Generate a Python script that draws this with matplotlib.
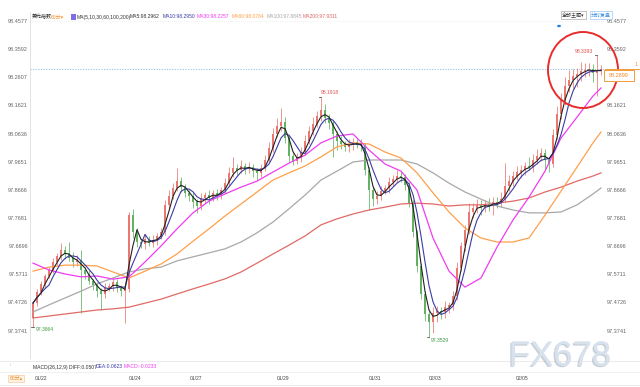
import matplotlib
matplotlib.use('Agg')
import matplotlib.pyplot as plt
import numpy as np
import pandas as pd
from matplotlib.patches import Ellipse, Rectangle, Circle
from matplotlib.lines import Line2D
import matplotlib.patheffects as pe

plt.rcParams['font.family'] = ['Liberation Sans', 'Noto Sans CJK SC', 'DejaVu Sans']

# ---------------- data ----------------
first_open = 97.418
close = [
    97.4705, 97.509, 97.537, 97.565, 97.586, 97.614, 97.635, 97.656, 97.642, 97.628,
    97.614, 97.621, 97.586, 97.572, 97.5475, 97.5335, 97.5125, 97.502, 97.523, 97.530,
    97.544, 97.523, 97.5125, 97.5195, 97.7785, 97.719, 97.684, 97.677, 97.6945, 97.6805,
    97.691, 97.705, 97.719, 97.8135, 97.845, 97.873, 97.8975, 97.8765, 97.8555, 97.845,
    97.824, 97.810, 97.838, 97.8485, 97.838, 97.8555, 97.8485, 97.866, 97.8905, 97.9255,
    97.943, 97.936, 97.950, 97.9395, 97.9465, 97.9325, 97.9255, 97.943, 97.971, 98.013,
    98.062, 98.090, 98.104, 98.048, 97.985, 97.9675, 97.9815, 97.999, 98.0375, 98.0725,
    98.097, 98.125, 98.146, 98.118, 98.1005, 98.062, 98.0375, 98.027, 98.0165, 98.027,
    98.034, 98.0235, 98.020, 97.936, 97.866, 97.8345, 97.845, 97.8625, 97.873, 97.894,
    97.9045, 97.915, 97.9115, 97.8835, 97.8205, 97.719, 97.600, 97.502, 97.432, 97.404,
    97.4355, 97.4425, 97.439, 97.4565, 97.4635, 97.495, 97.593, 97.670, 97.726, 97.789,
    97.803, 97.8135, 97.803, 97.817, 97.810, 97.824, 97.8205, 97.8345, 97.880, 97.8975,
    97.915, 97.929, 97.936, 97.950, 97.9465, 97.971, 97.985, 97.9955, 97.971, 97.957,
    98.0585, 98.132, 98.181, 98.230, 98.251, 98.265, 98.272, 98.2825, 98.286, 98.2895,
    98.2755, 98.286, 98.2899,
]
upper_wick_pips = [
    8, 10, 12, 8, 10, 14, 12, 25, 15, 42,
    20, 18, 35, 10, 14, 8, 12, 10, 16, 12,
    14, 10, 12, 8, 10, 20, 14, 12, 18, 10,
    16, 12, 14, 18, 22, 16, 45, 14, 12, 10,
    14, 10, 18, 12, 16, 10, 14, 12, 18, 22,
    38, 14, 20, 12, 16, 10, 12, 14, 18, 22,
    20, 28, 49, 16, 12, 10, 14, 18, 22, 16,
    24, 18, 46, 20, 14, 12, 10, 16, 12, 18,
    14, 12, 20, 10, 12, 14, 16, 18, 12, 16,
    14, 22, 18, 12, 10, 12, 8, 10, 12, 14,
    22, 16, 14, 20, 12, 16, 20, 14, 18, 30,
    16, 22, 18, 14, 20, 16, 18, 24, 80, 20,
    16, 22, 18, 14, 30, 20, 26, 18, 14, 12,
    20, 28, 24, 30, 36, 26, 22, 30, 24, 22,
    18, 53, 14,
]
lower_wick_pips = [
    32, 12, 10, 14, 8, 12, 10, 14, 16, 12,
    18, 14, 150, 16, 12, 18, 20, 56, 14, 12,
    16, 14, 18, 112, 12, 20, 16, 14, 18, 12,
    14, 16, 12, 10, 14, 12, 10, 16, 14, 18,
    20, 25, 14, 16, 22, 12, 18, 14, 10, 12,
    14, 16, 12, 18, 14, 22, 26, 14, 12, 10,
    14, 12, 16, 18, 20, 14, 12, 16, 10, 12,
    14, 12, 16, 18, 22, 80, 30, 18, 14, 16,
    20, 12, 16, 18, 70, 24, 16, 14, 12, 16,
    14, 12, 18, 16, 14, 16, 20, 18, 24, 51,
    38, 30, 26, 20, 22, 16, 14, 12, 18, 14,
    20, 16, 24, 14, 18, 30, 16, 14, 12, 16,
    18, 14, 20, 16, 12, 18, 14, 16, 30, 28,
    12, 14, 16, 18, 22, 30, 40, 26, 20, 22,
    30, 80, 16,
]

ma_sample_idx = [0, 4, 8, 12, 16, 20, 24, 28, 32, 36, 40, 44, 48, 52, 56, 60, 64, 68,
                 72, 76, 80, 84, 88, 92, 96, 100, 104, 108, 112, 116, 120, 124, 128,
                 132, 136, 140, 142]
ma30 = [97.610, 97.586, 97.572, 97.562, 97.565, 97.554, 97.562, 97.614, 97.670, 97.730,
        97.786, 97.827, 97.852, 97.876, 97.897, 97.929, 97.960, 97.988, 98.031, 98.055,
        98.062, 98.006, 97.957, 97.932, 97.866, 97.698, 97.582, 97.526, 97.558, 97.666,
        97.761, 97.841, 97.932, 98.048, 98.121, 98.195, 98.223]
ma60 = [97.582, 97.596, 97.603, 97.603, 97.600, 97.579, 97.558, 97.582, 97.607, 97.642,
        97.687, 97.730, 97.775, 97.817, 97.859, 97.901, 97.926, 97.950, 97.982, 98.017,
        98.031, 98.027, 97.999, 97.978, 97.926, 97.856, 97.789, 97.733, 97.698, 97.684,
        97.684, 97.698, 97.778, 97.862, 97.946, 98.031, 98.069]
ma100 = [97.439, 97.464, 97.488, 97.512, 97.537, 97.558, 97.579, 97.590, 97.596, 97.618,
         97.632, 97.646, 97.660, 97.684, 97.716, 97.754, 97.800, 97.848, 97.901, 97.932,
         97.964, 97.971, 97.971, 97.971, 97.957, 97.926, 97.890, 97.859, 97.834, 97.810,
         97.796, 97.786, 97.786, 97.789, 97.814, 97.852, 97.873]
ma200 = [97.418, 97.425, 97.432, 97.439, 97.446, 97.450, 97.456, 97.470, 97.484, 97.502,
         97.520, 97.537, 97.555, 97.579, 97.610, 97.642, 97.673, 97.705, 97.744, 97.765,
         97.782, 97.796, 97.806, 97.817, 97.820, 97.817, 97.810, 97.814, 97.814, 97.820,
         97.827, 97.838, 97.859, 97.876, 97.897, 97.915, 97.926]

date_labels = ['01/22', '01/24', '01/27', '01/29', '01/31', '02/03', '02/05']
date_pos = [2, 25.5, 40.75, 62.5, 85.5, 100.5, 122.25]

ytick_vals = [98.4577, 98.3592, 98.2607, 98.1621, 98.0636, 97.9651, 97.8666,
              97.7681, 97.6696, 97.5711, 97.4726, 97.3741]
last_price = 98.2899
high_label = '98.1918'
low_label = '97.3529'
start_low_label = '97.3864'
recent_high_label = '98.3393'

# ---------------- figure ----------------
W, H = 640, 387
fig = plt.figure(figsize=(W / 100, H / 100), dpi=100)
fig.patch.set_facecolor('white')
ax = fig.add_axes([30 / W, 1 - 358 / H, 575 / W, 346 / H])
ax.set_facecolor('white')

close_a = np.array(close)
n = len(close_a)
xs = np.arange(n)
opn = np.concatenate([[first_open], close_a[:-1]])
hi = np.maximum(opn, close_a) + np.array(upper_wick_pips) * 0.001
lo = np.minimum(opn, close_a) - np.array(lower_wick_pips) * 0.001
is_up = close_a >= opn
cols = np.where(is_up, '#ec7670', '#62b262')

ax.vlines(xs, lo, hi, colors=cols, lw=0.55, zorder=2)
body_h = np.where(np.abs(close_a - opn) < 0.0015, 0.0015, close_a - opn)
ax.bar(xs, body_h, bottom=opn, width=0.5, color=cols, linewidth=0, zorder=2)

# moving averages
s = pd.Series(close_a)
ma5_line = s.rolling(3, min_periods=1).mean()   # bars here are ~2 hourly bars each
ma10_line = s.rolling(5, min_periods=1).mean()
ax.plot(ma_sample_idx, ma200, color='#e06a66', lw=0.9, zorder=3)
ax.plot(ma_sample_idx, ma100, color='#a8a8a8', lw=0.9, zorder=3)
ax.plot(ma_sample_idx, ma60, color='#ffa04a', lw=0.9, zorder=3)
ax.plot(ma_sample_idx, ma30, color='#f03cf0', lw=0.9, zorder=3)
ax.plot(xs, ma10_line, color='#3b3ba8', lw=0.8, zorder=4)
ax.plot(xs, ma5_line, color='#222222', lw=0.8, zorder=5)

# price line
ax.axhline(last_price, color='#8cc0ee', lw=0.7, ls=(0, (1.2, 1.5)), zorder=1)
ax.axhline(ytick_vals[0], color='#e2e2e2', lw=0.5, ls=(0, (1, 2)), zorder=1)

ax.set_xlim(-0.75, 143)
ax.set_ylim(97.278, 98.489)

ax.set_yticks(ytick_vals)
ax.set_yticklabels([f'{v:.4f}' for v in ytick_vals])
ax.tick_params(axis='y', length=0, labelsize=4, labelcolor='#666666',
               left=False, right=False, labelleft=True, labelright=True, pad=1.5)
# the right label under the current-price box is hidden by that box
ax.yaxis.get_major_ticks()[2].label2.set_visible(False)
ax.set_xticks(date_pos)
ax.set_xticklabels(date_labels)
ax.tick_params(axis='x', length=0, labelsize=3.6, labelcolor='#444444', pad=13)
for sp in ['top', 'right', 'bottom']:
    ax.spines[sp].set_visible(False)
ax.spines['left'].set_color('#dddddd')
ax.spines['left'].set_linewidth(0.6)

# high / low labels
i_hi = int(np.argmax(hi[:100]))
ax.text(i_hi, hi[i_hi] + 0.006, high_label, color='#e05050', fontsize=3.6,
        ha='left', va='bottom', zorder=6)
ax.plot([i_hi - 0.6, i_hi], [hi[i_hi], hi[i_hi]], color='#333', lw=0.5)
i_lo = int(np.argmin(lo))
ax.text(i_lo + 0.5, lo[i_lo] - 0.006, low_label, color='#3f9a3f', fontsize=3.6,
        ha='left', va='top', zorder=6)
ax.plot([i_lo - 0.6, i_lo], [lo[i_lo], lo[i_lo]], color='#333', lw=0.5)
ax.text(0.6, lo[0] - 0.008, start_low_label, color='#3f9a3f', fontsize=3.6,
        ha='left', va='center', zorder=6)
ax.plot([-0.4, 0.2], [lo[0], lo[0]], color='#333', lw=0.5)
i_rh = int(np.argmax(hi[120:])) + 120
ax.text(i_rh - 1, hi[i_rh] + 0.004, recent_high_label, color='#e05050', fontsize=3.6,
        ha='right', va='bottom', zorder=6)
ax.plot([i_rh - 0.6, i_rh], [hi[i_rh], hi[i_rh]], color='#333', lw=0.5)

# red circle
ell = Ellipse((137.5, 98.286), 17.5, 0.266, fill=False, ec='#e82c2c', lw=1.4,
              zorder=7, clip_on=False)
ax.add_patch(ell)


def px(x, y):
    return x / W, 1 - y / H


# orange current price box on right
fig.add_artist(Line2D([605 / W, 640 / W], [1 - 69 / H] * 2, color='#f39a3b', lw=0.7))
fig.add_artist(Rectangle(px(604, 81), 30 / W, 11 / H, fc='white', ec='#f39a3b', lw=0.7,
                         transform=fig.transFigure))
fig.text(*px(619, 75.5), f'{last_price:.4f}', color='#f08a24', fontsize=4,
         ha='center', va='center')
fig.text(*px(636, 64), '1', color='#f08a24', fontsize=3.5, ha='center', va='center')

# header
hy = 17
fig.text(*px(32, hy), '美元指数', fontsize=3.6, color='#222', va='center')
fig.text(*px(51, hy), '60分▾', fontsize=3.6, color='#f08a24', va='center')
fig.add_artist(Rectangle(px(71, 20), 5 / W, 6 / H, fc='#7c6ee6', ec='none',
                         transform=fig.transFigure))
hdr = [(77, 'MA(5,10,30,60,100,200)', '#333333'),
       (130, 'MA5:98.2962', '#333333'),
       (163, 'MA10:98.2950', '#3b3ba8'),
       (197, 'MA30:98.2257', '#f03cf0'),
       (232, 'MA60:98.0764', '#ffa04a'),
       (267, 'MA100:97.8845', '#a8a8a8'),
       (303, 'MA200:97.9311', '#e06a66')]
for xh, t, c in hdr:
    fig.text(*px(xh, hy), t, fontsize=3.6, color=c, va='center')

fig.text(*px(573, 15), '全部主题▾', fontsize=3.6, color='#333', va='center', ha='center',
         bbox=dict(boxstyle='square,pad=0.25', fc='white', ec='#aaaaaa', lw=0.5))
fig.text(*px(601, 15), '分时复盘', fontsize=3.6, color='#3d8fe0', va='center', ha='center',
         bbox=dict(boxstyle='square,pad=0.25', fc='white', ec='#9cc6ef', lw=0.5))
fig.add_artist(Circle(px(559, 26), 2 / W, fc='#2f7fd8', ec='none',
                      transform=fig.transFigure))

# bottom area
fig.add_artist(Line2D([0, 1], [1 - 361 / H] * 2, color='#e8e8e8', lw=0.6))
fig.add_artist(Line2D([0, 1], [1 - 372 / H] * 2, color='#eeeeee', lw=0.6))
fig.add_artist(Line2D([0, 1], [1 - 385 / H] * 2, color='#e8e8e8', lw=0.6))
my = 367
fig.text(*px(8, my), '╵', fontsize=3.6, color='#e05050', va='center')
fig.text(*px(33, my), 'MACD(26,12,9) DIFF:0.0507', fontsize=3.6, color='#333', va='center')
fig.text(*px(96, my), 'DEA:0.0623', fontsize=3.6, color='#3b3ba8', va='center')
fig.text(*px(124, my), 'MACD:-0.0233', fontsize=3.6, color='#f03cf0', va='center')
fig.text(*px(16, 378), '60分▴', fontsize=3.6, color='#f08a24', va='center', ha='center',
         bbox=dict(boxstyle='square,pad=0.2', fc='#fff3e6', ec='#f5c08a', lw=0.4))

# watermark
fig.text(*px(560, 356), 'FX678', fontsize=25, color='#d8e2ed', ha='center', va='center',
         path_effects=[pe.withSimplePatchShadow(offset=(-1, -1), shadow_rgbFace='#8f9fb0',
                                                alpha=0.5), pe.Normal()])

fig.savefig('out.png', dpi=100, facecolor='white')
